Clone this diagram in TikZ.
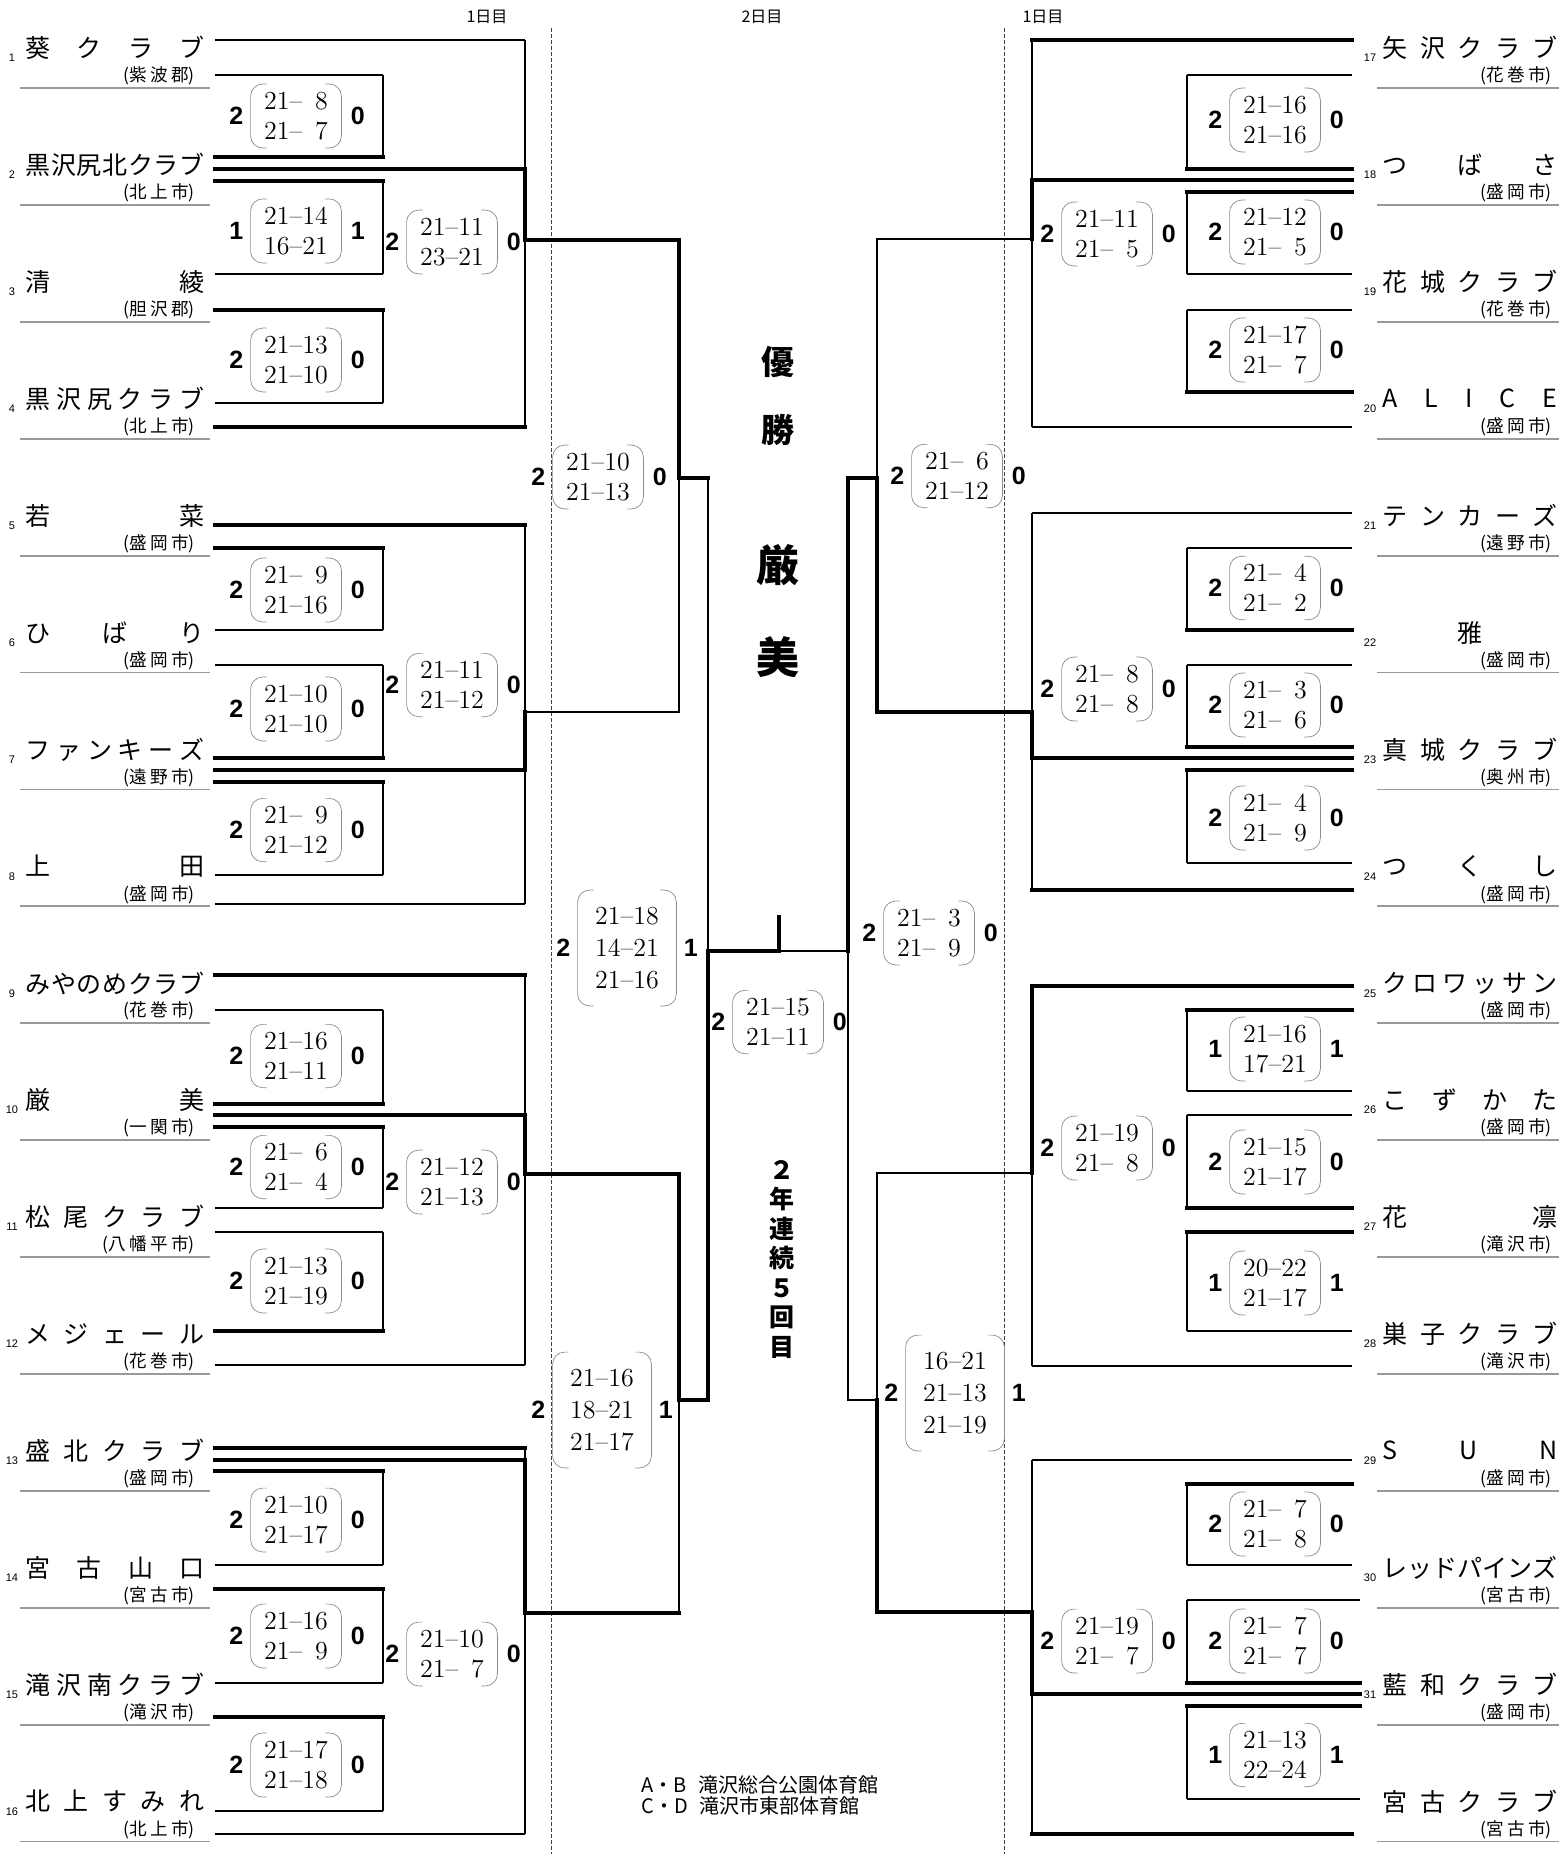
\documentclass[tikz,border=0pt]{standalone}
\usepackage{fontspec}
\newfontfamily\jpfont{Noto Sans CJK JP}
\newfontfamily\digfont{Liberation Sans}
\usetikzlibrary{positioning}
\newcommand\onepad{\phantom{1}}
\newcommand\spcrest[1]{\ifx#1\relax\else\hspace{1.6pt}#1\expandafter\spcrest\fi}
\newcommand\spcfirst[1]{#1\spcrest}
\tikzset{
  winline/.style={line width=1.65pt, line cap=rect},
  loseline/.style={line width=0.65pt},
  midline/.style={line width=1.1pt, line cap=rect},
  boxline/.style={line width=0.8pt},
  dayline/.style={line width=0.45pt, draw=black!75, dash pattern=on 2pt off 1pt},
  teamrule/.style={line width=0.9pt, draw=black!40},
  paren/.style={draw=black!45, line width=0.35pt, rounded corners=6pt},
  scorebox/.style={align=center, inner xsep=0pt, inner ysep=3.8pt, minimum width=45pt, font=\fontsize{13}{15}\selectfont},
  scorebox3/.style={scorebox, inner ysep=8.3pt, minimum width=49pt, font=\fontsize{13}{16}\selectfont},
  setnum/.style={font=\digfont\bfseries\fontsize{12.5}{13}\selectfont, inner ysep=0pt},
  tname/.style={font=\jpfont\fontsize{12.5}{13}\selectfont, inner sep=0pt},
  tplace/.style={font=\jpfont\fontsize{8.8}{9}\selectfont, inner sep=0pt},
  tnum/.style={font=\digfont\fontsize{5.5}{6}\selectfont, inner sep=0pt},
  daytext/.style={font=\jpfont\fontsize{8}{9}\selectfont, inner sep=0pt},
  champ/.style={font=\jpfont\bfseries\fontsize{16.5}{17}\selectfont, inner sep=0pt},
  champname/.style={font=\jpfont\bfseries\fontsize{21.5}{22}\selectfont, inner sep=0pt},
  streak/.style={font=\jpfont\bfseries\fontsize{12.5}{14.75}\selectfont, align=center, inner sep=0pt},
  venue/.style={font=\jpfont\fontsize{10}{10.5}\selectfont, align=left, inner sep=0pt},
}
\begin{document}
\begin{tikzpicture}[x=0.5pt,y=-0.5pt]
\useasboundingbox (0,0) rectangle (1559,1854);
\fill[white] (0,0) rectangle (1559,1854);

\node[daytext] (day1l) at (487,17) {1日目};
\node[daytext] (day2) at (762,17) {2日目};
\node[daytext] (day1r) at (1043,17) {1日目};
\draw[dayline] (551,28) -- (551,1854);
\draw[dayline] (1004,28) -- (1004,1854);

\foreach \tk/\nm/\pl in {1/{葵\hfill ク\hfill ラ\hfill ブ}/紫波郡, 2/{黒\hfill 沢\hfill 尻\hfill 北\hfill ク\hfill ラ\hfill ブ}/北上市,
  3/{清\hfill 綾}/胆沢郡, 4/{黒\hfill 沢\hfill 尻\hfill ク\hfill ラ\hfill ブ}/北上市, 5/{若\hfill 菜}/盛岡市,
  6/{ひ\hfill ば\hfill り}/盛岡市, 7/{フ\hfill ァ\hfill ン\hfill キ\hfill ー\hfill ズ}/遠野市, 8/{上\hfill 田}/盛岡市,
  9/{み\hfill や\hfill の\hfill め\hfill ク\hfill ラ\hfill ブ}/花巻市, 10/{厳\hfill 美}/一関市,
  11/{松\hfill 尾\hfill ク\hfill ラ\hfill ブ}/八幡平市, 12/{メ\hfill ジ\hfill ェ\hfill ー\hfill ル}/花巻市,
  13/{盛\hfill 北\hfill ク\hfill ラ\hfill ブ}/盛岡市, 14/{宮\hfill 古\hfill 山\hfill 口}/宮古市,
  15/{滝\hfill 沢\hfill 南\hfill ク\hfill ラ\hfill ブ}/滝沢市, 16/{北\hfill 上\hfill す\hfill み\hfill れ}/北上市}
{
    \node[tnum] (numl\tk) at (12,{58+116.9*(\tk-1)}) {\tk};
    \node[tname,anchor=west] (teaml\tk) at (25,{48+116.9*(\tk-1)}) {\makebox[89.5pt][s]{\nm}};
    \node[tplace,anchor=east] (placel\tk) at (195,{76+116.9*(\tk-1)}) {(\expandafter\spcfirst\pl\relax)};
    \draw[teamrule] (20,{88+116.9*(\tk-1)}) -- (210,{88+116.9*(\tk-1)});
}

\foreach \tk/\nm/\pl in {1/{矢\hfill 沢\hfill ク\hfill ラ\hfill ブ}/花巻市, 2/{つ\hfill ば\hfill さ}/盛岡市,
  3/{花\hfill 城\hfill ク\hfill ラ\hfill ブ}/花巻市, 4/{A\hfill L\hfill I\hfill C\hfill E}/盛岡市,
  5/{テ\hfill ン\hfill カ\hfill ー\hfill ズ}/遠野市, 6/{\hfill 雅\hfill}/盛岡市,
  7/{真\hfill 城\hfill ク\hfill ラ\hfill ブ}/奥州市, 8/{つ\hfill く\hfill し}/盛岡市,
  9/{ク\hfill ロ\hfill ワ\hfill ッ\hfill サ\hfill ン}/盛岡市, 10/{こ\hfill ず\hfill か\hfill た}/盛岡市,
  11/{花\hfill 凛}/滝沢市, 12/{巣\hfill 子\hfill ク\hfill ラ\hfill ブ}/滝沢市, 13/{S\hfill U\hfill N}/盛岡市,
  14/{レ\hfill ッ\hfill ド\hfill パ\hfill イ\hfill ン\hfill ズ}/宮古市, 15/{藍\hfill 和\hfill ク\hfill ラ\hfill ブ}/盛岡市,
  16/{宮\hfill 古\hfill ク\hfill ラ\hfill ブ}/宮古市}
{
    \node[tname,anchor=east] (teamr\tk) at (1558,{48+116.9*(\tk-1)}) {\makebox[87.5pt][s]{\nm}};
    \node[tplace,anchor=east] (placer\tk) at (1552,{76+116.9*(\tk-1)}) {(\expandafter\spcfirst\pl\relax)};
    \draw[teamrule] (1377,{88+116.9*(\tk-1)}) -- (1559,{88+116.9*(\tk-1)});
}
\foreach \tk [evaluate=\tk as \tn using int(\tk+16)] in {1,...,15}
{
    \node[tnum] (numr\tn) at (1370,{58+116.9*(\tk-1)}) {\tn};
}

\foreach \ly/\ls in {40/loseline,169/winline,427/winline,525/winline,770/winline,904/loseline,
  975/winline,1115/winline,1365/loseline,1448/winline,1460/winline,1834/loseline}
{
    \draw[\ls] (215,\ly) -- (525,\ly);
}
\foreach \bt/\bts/\bb/\bbs in {75/loseline/157/winline, 181/winline/274/loseline, 310/winline/403/loseline,
  548/winline/630/loseline, 665/loseline/758/winline, 782/winline/875/loseline,
  1010/loseline/1104/winline, 1127/winline/1208/loseline, 1232/loseline/1331/winline,
  1471/winline/1565/loseline, 1589/winline/1683/loseline, 1717/winline/1811/loseline}
{
    \draw[\bts] (215,\bt) -- (383,\bt);
    \draw[boxline] (383,\bt) -- (383,\bb);
    \draw[\bbs] (215,\bb) -- (383,\bb);
}
\foreach \va/\vb/\vc/\vd/\ve/\vs in {40/169/240/427/240/winline, 525/712/770/904/712/midline,
  975/1115/1174/1365/1174/winline, 1448/1460/1613/1834/1613/winline}
{
    \draw[loseline] (525,\va) -- (525,\vd);
    \draw[winline] (525,\vb) -- (525,\vc);
    \draw[\vs] (525,\ve) -- (679,\ve);
}

\foreach \ly/\ls/\lx in {40/winline/1352,180/winline/1352,427/loseline/1352,513/loseline/1352,758/winline/1352,
  890/winline/1352,986/winline/1352,1366/loseline/1352,1460/loseline/1352,1694/winline/1360,1834/winline/1352}
{
    \draw[\ls] (1032,\ly) -- (\lx,\ly);
}
\foreach \bt/\bts/\bb/\bbs/\bx in {75/loseline/169/winline/1352, 192/winline/274/loseline/1352,
  310/loseline/392/winline/1352, 548/loseline/630/winline/1352, 665/loseline/747/winline/1352,
  770/winline/863/loseline/1352, 1010/winline/1091/loseline/1352, 1115/loseline/1208/winline/1352,
  1232/winline/1331/loseline/1352, 1484/winline/1565/loseline/1352, 1600/loseline/1683/winline/1360,
  1706/winline/1799/loseline/1360}
{
    \draw[\bts] (\bx,\bt) -- (1187,\bt);
    \draw[boxline] (1187,\bt) -- (1187,\bb);
    \draw[\bbs] (\bx,\bb) -- (1187,\bb);
}
\foreach \va/\vb/\vc/\vd/\ve/\vs in {40/180/239/427/239/midline, 513/712/758/890/712/winline,
  986/986/1173/1366/1173/midline, 1460/1612/1694/1834/1612/winline}
{
    \draw[loseline] (1032,\va) -- (1032,\vd);
    \draw[winline] (1032,\vb) -- (1032,\vc);
    \draw[\vs] (1032,\ve) -- (877,\ve);
}

\draw[winline] (679,240) -- (679,478) -- (708,478);
\draw[loseline] (679,478) -- (679,712);
\draw[winline] (679,1174) -- (679,1400) -- (708,1400) -- (708,951) -- (779,951);
\draw[loseline] (679,1400) -- (679,1613);
\draw[loseline] (708,478) -- (708,951);
\draw[winline] (779,917) -- (779,951);
\draw[loseline] (779,951) -- (848,951);
\draw[loseline] (877,239) -- (877,478);
\draw[winline] (877,712) -- (877,478) -- (848,478) -- (848,951);
\draw[loseline] (848,951) -- (848,1400) -- (877,1400);
\draw[loseline] (877,1173) -- (877,1400);
\draw[winline] (877,1400) -- (877,1612);

\foreach \sx/\sy/\sw/\sl/\st [count=\si] in {296/116/2/0/{21--\onepad 8\\21--\onepad 7}, 296/231/1/1/{21--14\\16--21},
  296/360/2/0/{21--13\\21--10}, 296/590/2/0/{21--\onepad 9\\21--16}, 296/709/2/0/{21--10\\21--10},
  296/830/2/0/{21--\onepad 9\\21--12}, 296/1056/2/0/{21--16\\21--11}, 296/1167/2/0/{21--\onepad 6\\21--\onepad 4},
  296/1281/2/0/{21--13\\21--19}, 296/1520/2/0/{21--10\\21--17}, 296/1636/2/0/{21--16\\21--\onepad 9},
  296/1765/2/0/{21--17\\21--18},
  452/242/2/0/{21--11\\23--21}, 452/685/2/0/{21--11\\21--12}, 452/1182/2/0/{21--12\\21--13},
  452/1654/2/0/{21--10\\21--\onepad 7},
  1275/120/2/0/{21--16\\21--16}, 1275/232/2/0/{21--12\\21--\onepad 5}, 1275/350/2/0/{21--17\\21--\onepad 7},
  1275/588/2/0/{21--\onepad 4\\21--\onepad 2}, 1275/705/2/0/{21--\onepad 3\\21--\onepad 6},
  1275/818/2/0/{21--\onepad 4\\21--\onepad 9}, 1275/1049/1/1/{21--16\\17--21}, 1275/1162/2/0/{21--15\\21--17},
  1275/1283/1/1/{20--22\\21--17}, 1275/1524/2/0/{21--\onepad 7\\21--\onepad 8},
  1275/1641/2/0/{21--\onepad 7\\21--\onepad 7}, 1275/1755/1/1/{21--13\\22--24},
  1107/234/2/0/{21--11\\21--\onepad 5}, 1107/689/2/0/{21--\onepad 8\\21--\onepad 8},
  1107/1148/2/0/{21--19\\21--\onepad 8}, 1107/1641/2/0/{21--19\\21--\onepad 7},
  598/477/2/0/{21--10\\21--13}, 778/1022/2/0/{21--15\\21--11}, 957/476/2/0/{21--\onepad 6\\21--12},
  929/933/2/0/{21--\onepad 3\\21--\onepad 9}}
{
    \node[scorebox] (sc\si) at (\sx,\sy) {\st};
    \draw[paren] ([xshift=8pt]sc\si.north west) -- (sc\si.north west) -- (sc\si.south west) -- ([xshift=8pt]sc\si.south west);
    \draw[paren] ([xshift=-8pt]sc\si.north east) -- (sc\si.north east) -- (sc\si.south east) -- ([xshift=-8pt]sc\si.south east);
    \node[setnum,anchor=east,inner xsep=3.5pt] (sw\si) at (sc\si.west) {\sw};
    \node[setnum,anchor=west,inner xsep=4.5pt] (sl\si) at (sc\si.east) {\sl};
}
\foreach \sx/\sy/\sw/\sl/\st [count=\si] in {627/948/2/1/{21--18\\14--21\\21--16},
  602/1410/2/1/{21--16\\18--21\\21--17}, 955/1393/2/1/{16--21\\21--13\\21--19}}
{
    \node[scorebox3] (tc\si) at (\sx,\sy) {\st};
    \draw[paren] ([xshift=8pt]tc\si.north west) -- (tc\si.north west) -- (tc\si.south west) -- ([xshift=8pt]tc\si.south west);
    \draw[paren] ([xshift=-8pt]tc\si.north east) -- (tc\si.north east) -- (tc\si.south east) -- ([xshift=-8pt]tc\si.south east);
    \node[setnum,anchor=east,inner xsep=3.5pt] (tw\si) at (tc\si.west) {\sw};
    \node[setnum,anchor=west,inner xsep=3.5pt] (tl\si) at (tc\si.east) {\sl};
}

\node[champ] (yu) at (778,362) {優};
\node[champ] (sho) at (778,430) {勝};
\node[champname] (gen) at (778,565) {厳};
\node[champname] (bi) at (778,657) {美};
\node[streak] (streak) at (782,1259) {２\\年\\連\\続\\５\\回\\目};
\node[venue,anchor=west] (venue) at (641,1795) {A・B\hspace{6pt}滝沢総合公園体育館\\C・D\hspace{6pt}滝沢市東部体育館};
\end{tikzpicture}
\end{document}
